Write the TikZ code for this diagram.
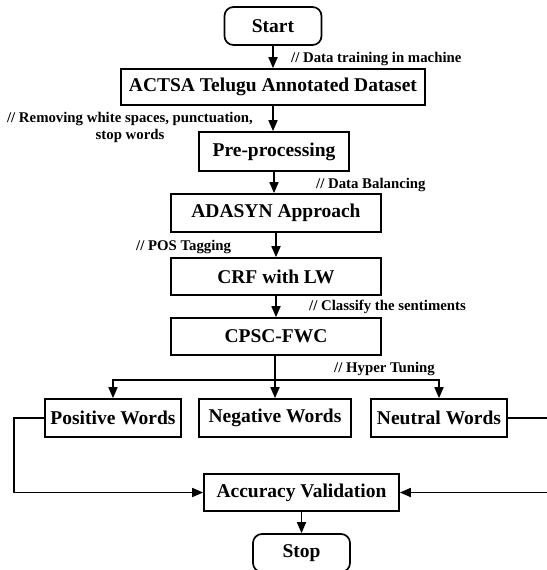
\documentclass[tikz,border=0pt]{standalone}
\usepackage{fontspec}
\setmainfont{Liberation Serif}
\usetikzlibrary{arrows.meta}
\begin{document}
\begin{tikzpicture}[x=1pt,y=-1pt,
  box/.style={draw,line width=1.7pt,minimum height=37pt,inner sep=0pt,font=\fontsize{19.5}{22}\selectfont\bfseries},
  term/.style={box,rounded corners=9pt},
  lbl/.style={font=\fontsize{14.8}{16}\selectfont\bfseries,inner sep=0pt},
  arr/.style={line width=1.7pt,-{Triangle[length=11pt,width=9pt]}},
  ln/.style={line width=1.7pt}]
\useasboundingbox (0,0) rectangle (546,570);
\node[term,minimum width=97pt,minimum height=38pt] (start) at (273,26) {Start};
\node[box,minimum width=304pt,minimum height=36pt] (actsa) at (273,87) {ACTSA Telugu Annotated Dataset};
\node[box,minimum width=150pt,minimum height=39pt] (pre) at (274,151.5) {Pre-processing};
\node[box,minimum width=210pt,minimum height=38pt] (ada) at (276,213) {ADASYN Approach};
\node[box,minimum width=210pt,minimum height=37pt] (crf) at (276,276.5) {CRF with LW};
\node[box,minimum width=210pt,minimum height=37pt] (cpsc) at (276,336.5) {CPSC-FWC};
\node[box,minimum width=136pt,minimum height=38pt] (pos) at (113,418) {Positive Words};
\node[box,minimum width=152pt,minimum height=38pt] (neg) at (275,418) {Negative Words};
\node[box,minimum width=136pt,minimum height=38pt] (neu) at (439,418) {Neutral Words};
\node[box,minimum width=195pt,minimum height=37pt] (acc) at (301.5,492.5) {Accuracy Validation};
\node[term,minimum width=97pt,minimum height=38pt] (stop) at (301.5,553) {Stop};

\node[lbl,anchor=west] (l1) at (291,59) {// Data training in machine};
\node[lbl,align=center] (l2) at (130,127) {// Removing white spaces, punctuation,\\[1pt] stop words};
\node[lbl,anchor=west] (l3) at (316,185) {// Data Balancing};
\node[lbl,anchor=west] (l4) at (136,247) {// POS Tagging};
\node[lbl,anchor=west] (l5) at (309,307) {// Classify the sentiments};
\node[lbl,anchor=west] (l6) at (334,369) {// Hyper Tuning};

\draw[arr] (start.south) -- (actsa.north);
\draw[arr] (actsa.south) -- (actsa.south |- pre.north);
\draw[arr] (pre.south) -- (pre.south |- ada.north);
\draw[arr] (ada.south) -- (crf.north);
\draw[arr] (crf.south) -- (cpsc.north);
\coordinate (split) at (275,380);
\draw[ln] (cpsc.south -| split) -- (split);
\draw[arr] (split) -- (neg.north);
\draw[arr] (split) -| (pos.north);
\draw[arr] (split) -| (neu.north);
\coordinate (lft) at (14,0);
\coordinate (rgt) at (552,0);
\draw[arr] (pos.west) -| (lft |- acc.west) -- (acc.west);
\draw[arr] (neu.east) -| (rgt |- acc.east) -- (acc.east);
\draw[arr] (acc.south) -- (stop.north);
\end{tikzpicture}
\end{document}
